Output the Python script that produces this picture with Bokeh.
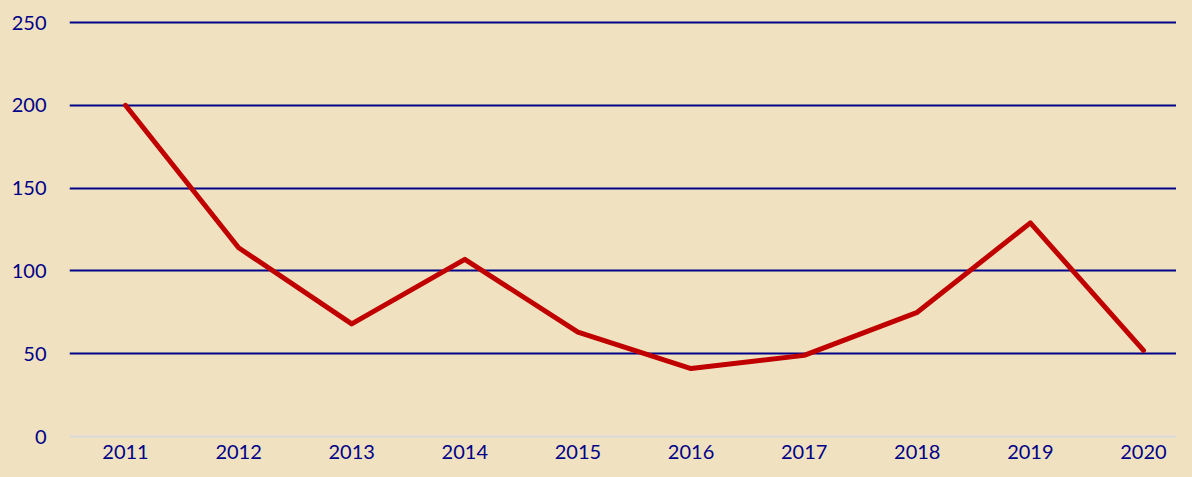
from bokeh.plotting import figure
from bokeh.models import Range1d, FixedTicker
from bokeh.embed import file_html
from bokeh.resources import INLINE

# Data
years = ["2011", "2012", "2013", "2014", "2015", "2016", "2017", "2018", "2019", "2020"]
values = [200, 114, 68, 107, 63, 41, 49, 75, 129, 52]
y_ticks = [0, 50, 100, 150, 200, 250]
grid_ticks = [50, 100, 150, 200, 250]

BG = "#F0E2C0"
NAVY = "#000088"

x = [int(y) for y in years]

p = figure(width=1176, height=461, output_backend="svg", toolbar_location=None,
           x_range=Range1d(2010.505, 2020.292), y_range=Range1d(0, 263.3),
           min_border_left=69, min_border_right=0, min_border_top=0, min_border_bottom=25)

p.background_fill_color = BG
p.border_fill_color = BG
p.outline_line_color = None

p.line(x, values, line_color="#C00000", line_width=5, line_join="round", line_cap="round")

# x axis
p.xaxis.ticker = FixedTicker(ticks=x)
p.xaxis.major_label_overrides = {int(y): y for y in years}
p.xaxis.axis_line_color = "#D9D9D9"
p.xaxis.axis_line_width = 2
p.xaxis.major_tick_line_color = None
p.xaxis.minor_tick_line_color = None
p.xaxis.major_label_standoff = 2
p.xaxis.major_label_text_color = NAVY
p.xaxis.major_label_text_font = "Lato"
p.xaxis.major_label_text_font_size = "20px"

# y axis
p.yaxis.ticker = FixedTicker(ticks=y_ticks)
p.yaxis.axis_line_color = None
p.yaxis.major_tick_line_color = None
p.yaxis.minor_tick_line_color = None
p.yaxis.major_label_standoff = 17
p.yaxis.major_label_text_color = NAVY
p.yaxis.major_label_text_font = "Lato"
p.yaxis.major_label_text_font_size = "20px"

# grids
p.xgrid.grid_line_color = None
p.ygrid.ticker = FixedTicker(ticks=grid_ticks)
p.ygrid.grid_line_color = NAVY
p.ygrid.grid_line_width = 2

html = file_html(p, INLINE)
html = html.replace("<head>", "<head><style>html,body{background:%s;}</style>" % BG, 1)
open("out.html", "w").write(html)
